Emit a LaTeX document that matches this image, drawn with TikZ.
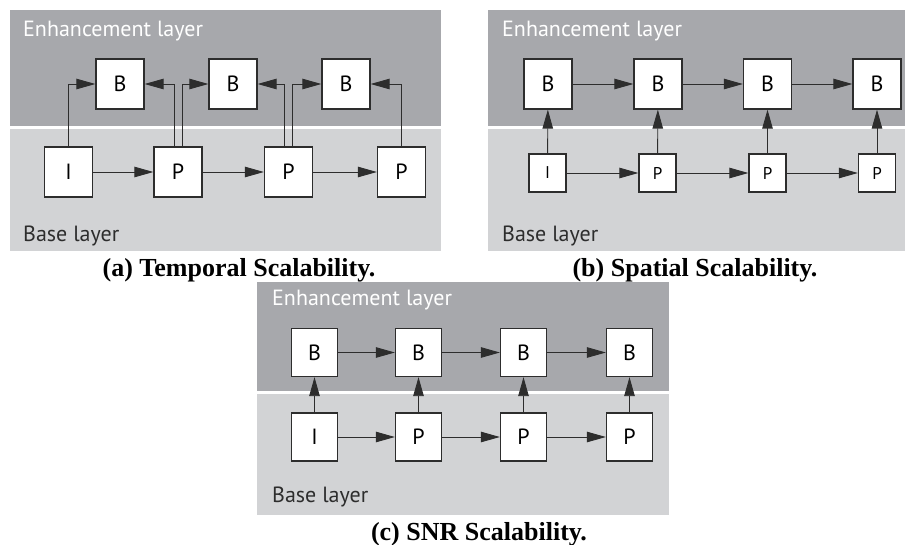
\documentclass[tikz,border=0pt]{standalone}
\usepackage{fontspec}
\setmainfont{Liberation Serif}
\newfontfamily\layerfont{PT Sans}
\usetikzlibrary{arrows.meta}
\usetikzlibrary{positioning}

\definecolor{enhgray}{RGB}{167,168,172}
\definecolor{basegray}{RGB}{210,211,213}
\definecolor{linegray}{RGB}{45,45,45}

\begin{document}
\begin{tikzpicture}[x=1pt,y=-1pt,
        >={Triangle[length=19pt,width=10.5pt]},
        frame/.style={draw=linegray, line width=1.3pt, fill=white, inner sep=0pt,
            minimum width=48pt, minimum height=50pt, font=\layerfont\fontsize{22}{22}\selectfont},
        smallframe/.style={frame, minimum width=37pt, minimum height=38pt,
            font=\layerfont\fontsize{17}{17}\selectfont},
        snrframe/.style={frame, minimum width=46pt, minimum height=48pt},
        link/.style={->, draw=linegray, line width=0.9pt},
        toplabel/.style={anchor=base west, inner sep=0pt, text=white,
            font=\layerfont\fontsize{22}{22}\selectfont},
        botlabel/.style={toplabel, text=linegray},
        caption/.style={anchor=base, inner sep=0pt, font=\bfseries\fontsize{26}{26}\selectfont}]
        \useasboundingbox (0,0) rectangle (905,544);

        % layer backgrounds
        \fill[enhgray] (10,10) rectangle (441,126);
        \fill[basegray] (10,129) rectangle (441,251);
        \fill[enhgray] (488,10) rectangle (905,126);
        \fill[basegray] (488,129) rectangle (905,251);
        \fill[enhgray] (257,282) rectangle (669,391);
        \fill[basegray] (257,394) rectangle (669,515);

        % (a) temporal
        \node[toplabel] (enha) at (23,36) {Enhancement layer};
        \node[botlabel] (basea) at (23,241) {Base layer};
        \node[frame] (ia) at (68.5,172) {I};
        \node[frame] (pa1) at (178,172) {P};
        \node[frame] (pa2) at (288.5,172) {P};
        \node[frame] (pa3) at (401.5,172) {P};
        \node[frame] (ba1) at (120,84) {B};
        \node[frame] (ba2) at (233,84) {B};
        \node[frame] (ba3) at (346,84) {B};
        \draw[link] (ia) -- (pa1);
        \draw[link] (pa1) -- (pa2);
        \draw[link] (pa2) -- (pa3);
        \draw[link] (ia) |- (ba1);
        \draw[link] ([xshift=-4pt]pa1.north) |- (ba1);
        \draw[link] ([xshift=4pt]pa1.north) |- (ba2);
        \draw[link] ([xshift=-4pt]pa2.north) |- (ba2);
        \draw[link] ([xshift=4pt]pa2.north) |- (ba3);
        \draw[link] (pa3) |- (ba3);
        \node[caption] (capa) at (239,276) {(a) Temporal Scalability.};

        % (b) spatial
        \node[toplabel] (enhb) at (502,36) {Enhancement layer};
        \node[botlabel] (baseb) at (502,241) {Base layer};
        \node[smallframe] (ib) at (547.5,173) {I};
        \node[smallframe] (pb1) at (657.5,173) {P};
        \node[smallframe] (pb2) at (767.5,173) {P};
        \node[smallframe] (pb3) at (877,173) {P};
        \node[frame] (bb1) at (548,84) {B};
        \node[frame] (bb2) at (658,84) {B};
        \node[frame] (bb3) at (767.5,84) {B};
        \node[frame] (bb4) at (877,84) {B};
        \draw[link] (ib) -- (pb1);
        \draw[link] (pb1) -- (pb2);
        \draw[link] (pb2) -- (pb3);
        \draw[link] (bb1) -- (bb2);
        \draw[link] (bb2) -- (bb3);
        \draw[link] (bb3) -- (bb4);
        \draw[link] (ib) -- (bb1);
        \draw[link] (pb1) -- (bb2);
        \draw[link] (pb2) -- (bb3);
        \draw[link] (pb3) -- (bb4);
        \node[caption] (capb) at (695,276) {(b) Spatial Scalability.};

        % (c) SNR
        \node[toplabel] (enhc) at (272,305) {Enhancement layer};
        \node[botlabel] (basec) at (272,502) {Base layer};
        \node[snrframe] (ic) at (314.5,437) {I};
        \node[snrframe] (pc1) at (418.5,437) {P};
        \node[snrframe] (pc2) at (523.5,437) {P};
        \node[snrframe] (pc3) at (629.5,437) {P};
        \node[snrframe] (bc1) at (314.5,352.5) {B};
        \node[snrframe] (bc2) at (418.5,352.5) {B};
        \node[snrframe] (bc3) at (523.5,352.5) {B};
        \node[snrframe] (bc4) at (629.5,352.5) {B};
        \draw[link] (ic) -- (pc1);
        \draw[link] (pc1) -- (pc2);
        \draw[link] (pc2) -- (pc3);
        \draw[link] (bc1) -- (bc2);
        \draw[link] (bc2) -- (bc3);
        \draw[link] (bc3) -- (bc4);
        \draw[link] (ic) -- (bc1);
        \draw[link] (pc1) -- (bc2);
        \draw[link] (pc2) -- (bc3);
        \draw[link] (pc3) -- (bc4);
        \node[caption] (capc) at (479,540) {(c) SNR Scalability.};
\end{tikzpicture}
\end{document}
